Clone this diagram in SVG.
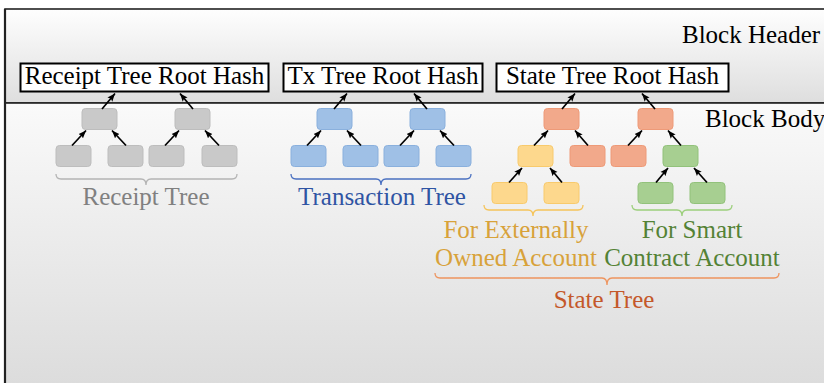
<svg xmlns="http://www.w3.org/2000/svg" width="824" height="383" viewBox="0 0 824 383">
<defs>
<linearGradient id="gHead" x1="0" y1="0" x2="0" y2="1">
<stop offset="0" stop-color="#fefefe"/>
<stop offset="1" stop-color="#dedede"/>
</linearGradient>
<linearGradient id="gBody" x1="0" y1="0" x2="0" y2="1">
<stop offset="0" stop-color="#fafafa"/>
<stop offset="1" stop-color="#dadada"/>
</linearGradient>
<marker id="ah" markerUnits="userSpaceOnUse" markerWidth="9" markerHeight="8" refX="8" refY="4" orient="auto">
<path d="M0,0.8 L8,4 L0,7.2 L1.5,4 z" fill="#000"/>
</marker>
<style>
.t{font-family:"Liberation Serif","Times New Roman",serif;font-size:25px}
.m{text-anchor:middle}
.box{fill:#fff;stroke:#000;stroke-width:2}
.n{stroke-width:1}
.gray{fill:#c9c9c9;stroke:#bdbdbd}
.blue{fill:#9fc0e6;stroke:#8ab0dd}
.org{fill:#f2a98b;stroke:#ee9a78}
.yel{fill:#fdd88d;stroke:#f8ca6c}
.grn{fill:#a7cf91;stroke:#92c27b}
.a{stroke:#000;stroke-width:1.7;fill:none;marker-end:url(#ah)}
.br{fill:none;stroke-width:1.3}
</style>
</defs>
<g id="frame">
<rect x="5" y="9" width="830" height="94" fill="url(#gHead)" stroke="#222" stroke-width="1.6"/>
<rect x="5" y="103" width="830" height="300" fill="url(#gBody)" stroke="#222" stroke-width="1.6"/>
<line x1="5" y1="9" x2="5" y2="383" stroke="#222" stroke-width="2.2"/>
<text class="t" x="682" y="43">Block Header</text>
<text class="t" x="705" y="127">Block Body</text>
</g>
<g id="receipt-root"><rect class="box" x="20.5" y="63.5" width="248" height="28"/><text class="t m" x="144.5" y="84">Receipt Tree Root Hash</text></g>
<g id="tx-root"><rect class="box" x="283.5" y="63.5" width="199" height="28"/><text class="t m" x="383" y="84">Tx Tree Root Hash</text></g>
<g id="state-root"><rect class="box" x="496.5" y="63.5" width="232" height="28"/><text class="t m" x="612.5" y="84">State Tree Root Hash</text></g>

<g id="receipt-tree">
<rect class="n gray" x="82" y="108.5" width="35" height="21" rx="3.5"/>
<rect class="n gray" x="175" y="108.5" width="35" height="21" rx="3.5"/>
<rect class="n gray" x="56" y="145.5" width="35" height="21" rx="3.5"/>
<rect class="n gray" x="108" y="145.5" width="35" height="21" rx="3.5"/>
<rect class="n gray" x="149" y="145.5" width="35" height="21" rx="3.5"/>
<rect class="n gray" x="202" y="145.5" width="35" height="21" rx="3.5"/>
<path class="br" stroke="#b4b4b4" d="M56,174 Q56,179 61,179 L141,179 Q146,179 146,185 Q146,179 151,179 L232,179 Q237,179 237,174"/>
<text class="t m" x="146" y="205" fill="#808080">Receipt Tree</text>
</g>

<g id="tx-tree">
<rect class="n blue" x="317" y="108.5" width="35" height="21" rx="3.5"/>
<rect class="n blue" x="410" y="108.5" width="35" height="21" rx="3.5"/>
<rect class="n blue" x="291" y="145.5" width="35" height="21" rx="3.5"/>
<rect class="n blue" x="343" y="145.5" width="35" height="21" rx="3.5"/>
<rect class="n blue" x="384" y="145.5" width="35" height="21" rx="3.5"/>
<rect class="n blue" x="436" y="145.5" width="35" height="21" rx="3.5"/>
<path class="br" stroke="#4a70c0" d="M291,174 Q291,179 296,179 L376,179 Q381,179 381,185 Q381,179 386,179 L466,179 Q471,179 471,174"/>
<text class="t m" x="382" y="205" fill="#2f54a3">Transaction Tree</text>
</g>

<g id="state-tree">
<rect class="n org" x="544" y="108.5" width="35" height="21" rx="3.5"/>
<rect class="n org" x="638" y="108.5" width="35" height="21" rx="3.5"/>
<rect class="n yel" x="518" y="145.5" width="35" height="21" rx="3.5"/>
<rect class="n org" x="570" y="145.5" width="35" height="21" rx="3.5"/>
<rect class="n org" x="611" y="145.5" width="35" height="21" rx="3.5"/>
<rect class="n grn" x="663" y="145.5" width="35" height="21" rx="3.5"/>
<rect class="n yel" x="492" y="182.5" width="35" height="21" rx="3.5"/>
<rect class="n yel" x="544" y="182.5" width="35" height="21" rx="3.5"/>
<rect class="n grn" x="638" y="182.5" width="35" height="21" rx="3.5"/>
<rect class="n grn" x="690" y="182.5" width="35" height="21" rx="3.5"/>
<path class="br" stroke="#f5c45a" d="M484,205 Q484,210 489,210 L528,210 Q533,210 533,216 Q533,210 538,210 L578,210 Q583,210 583,205"/>
<path class="br" stroke="#9ccf7c" d="M632,205 Q632,210 637,210 L677,210 Q682,210 682,216 Q682,210 687,210 L727,210 Q732,210 732,205"/>
<text class="t m" x="516" y="238" fill="#d8a23a">For Externally</text>
<text class="t m" x="516" y="266" fill="#d8a23a">Owned Account</text>
<text class="t m" x="692" y="238" fill="#548235">For Smart</text>
<text class="t m" x="692" y="266" fill="#548235">Contract Account</text>
<path class="br" stroke="#ee945e" d="M435,273 Q435,278 440,278 L602,278 Q607,278 607,285 Q607,278 612,278 L774,278 Q779,278 779,273"/>
<text class="t m" x="604" y="308" fill="#c4582a">State Tree</text>
</g>

<g id="connectors">
<line class="a" x1="102" y1="109" x2="115" y2="93.5"/>
<line class="a" x1="193" y1="109" x2="180" y2="93.5"/>
<line class="a" x1="72" y1="145.5" x2="86" y2="130.5"/>
<line class="a" x1="126" y1="145.5" x2="112" y2="130.5"/>
<line class="a" x1="165" y1="145.5" x2="179" y2="130.5"/>
<line class="a" x1="219" y1="145.5" x2="205" y2="130.5"/>

<line class="a" x1="334" y1="109" x2="347" y2="93.5"/>
<line class="a" x1="427" y1="109" x2="414" y2="93.5"/>
<line class="a" x1="307" y1="145.5" x2="321" y2="130.5"/>
<line class="a" x1="361" y1="145.5" x2="347" y2="130.5"/>
<line class="a" x1="400" y1="145.5" x2="414" y2="130.5"/>
<line class="a" x1="454" y1="145.5" x2="440" y2="130.5"/>

<line class="a" x1="562" y1="109" x2="575" y2="93.5"/>
<line class="a" x1="655" y1="109" x2="642" y2="93.5"/>
<line class="a" x1="534" y1="145.5" x2="548" y2="130.5"/>
<line class="a" x1="588" y1="145.5" x2="575" y2="130.5"/>
<line class="a" x1="628" y1="145.5" x2="642" y2="130.5"/>
<line class="a" x1="681" y1="145.5" x2="668" y2="130.5"/>
<line class="a" x1="509" y1="182.5" x2="522" y2="168"/>
<line class="a" x1="562" y1="182.5" x2="550" y2="168"/>
<line class="a" x1="656" y1="182.5" x2="668" y2="168"/>
<line class="a" x1="707" y1="182.5" x2="694" y2="168"/>
</g>
</svg>
